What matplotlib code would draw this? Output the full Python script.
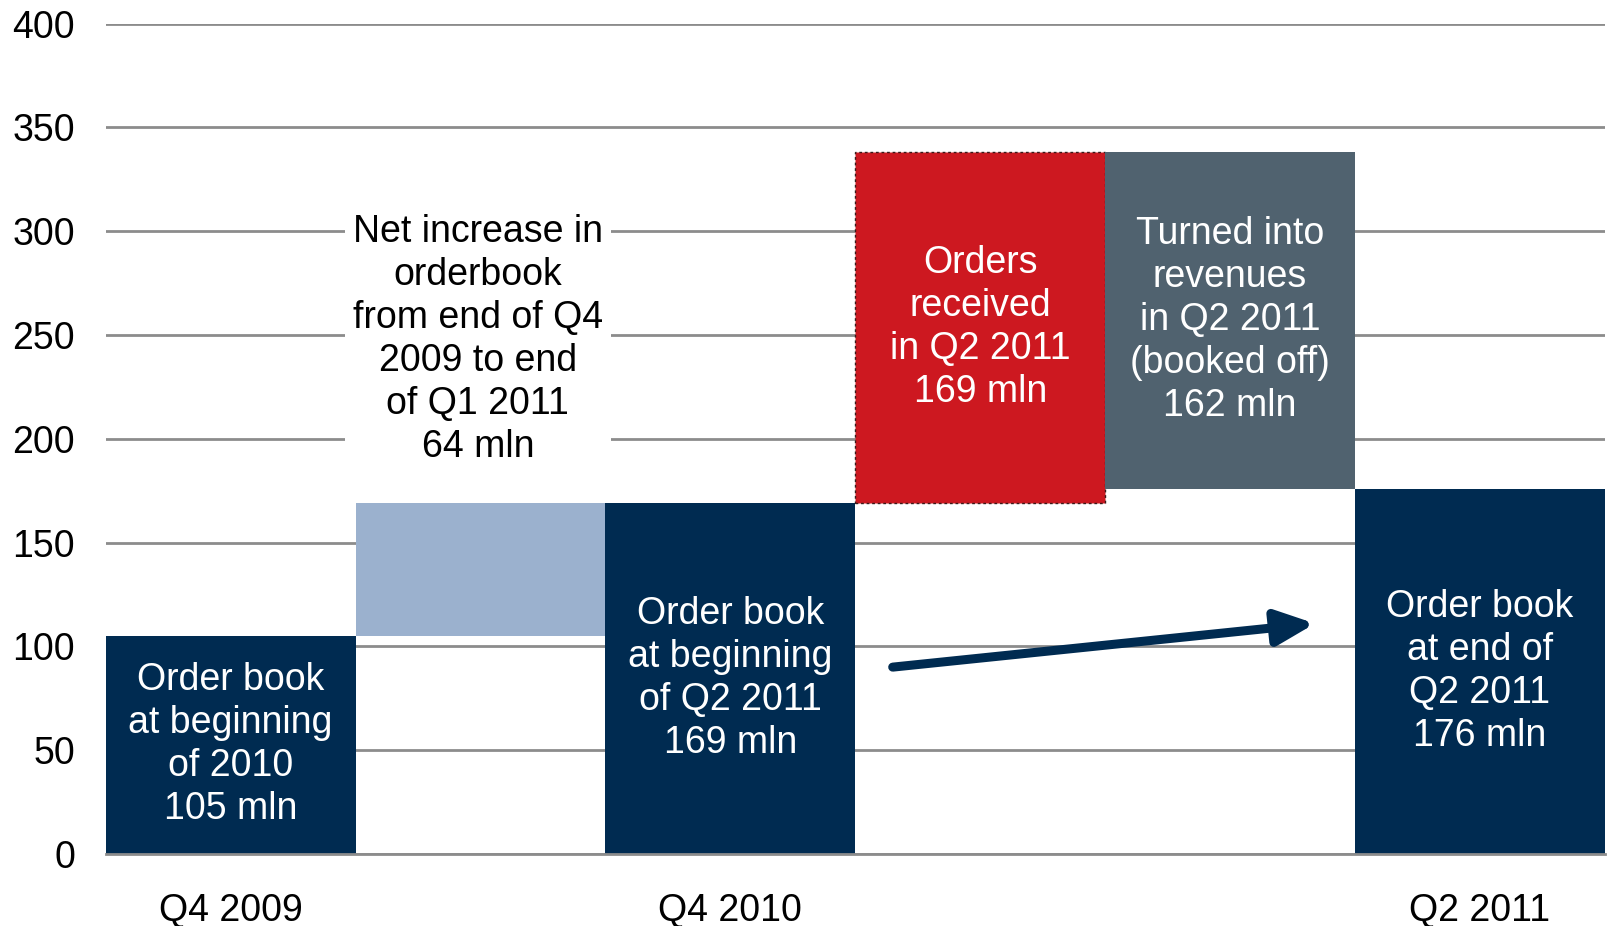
import numpy as np
import matplotlib
matplotlib.use('Agg')
from matplotlib import pyplot as plt

plt.rcParams['font.family'] = ['Liberation Sans', 'DejaVu Sans']

# chart data (mln)
tick_labels = ['Q4 2009', '', 'Q4 2010', '', '', 'Q2 2011']
bottoms = [0, 105, 0, 169, 176, 0]
heights = [105, 64, 169, 169, 162, 176]
colors = ['#002b51', '#9bb1ce', '#002b51', '#cd1820', '#50626f', '#002b51']
bar_texts = ['Order book\nat beginning\nof 2010\n105 mln',
             None,
             'Order book\nat beginning\nof Q2 2011\n169 mln',
             'Orders\nreceived\nin Q2 2011\n169 mln',
             'Turned into\nrevenues\nin Q2 2011\n(booked off)\n162 mln',
             'Order book\nat end of\nQ2 2011\n176 mln']
net_text = 'Net increase in\norderbook\nfrom end of Q4\n2009 to end\nof Q1 2011\n64 mln'
net_text_y = 248
arrow_start = (2.65, 90)
arrow_end = (4.34, 111)

fig = plt.figure(figsize=(16.08, 9.26), dpi=100)
ax = fig.add_axes([0.0657, 0.0778, 0.9323, 0.8967])

x = np.arange(len(heights))
bars = ax.bar(x, heights, bottom=bottoms, width=1.0, color=colors, zorder=2)
bars[3].set_edgecolor('#3a1a1a')
bars[3].set_linestyle((0, (2, 2)))
bars[3].set_linewidth(1.0)

fs = 27
for i, txt in enumerate(bar_texts):
    if txt is None:
        continue
    ax.text(x[i], bottoms[i] + heights[i] / 2, txt, ha='center', va='center',
            color='white', fontsize=fs, linespacing=1.25, zorder=3)

ax.text(x[1] - 0.01, net_text_y, net_text, ha='center', va='center', color='black',
        fontsize=fs, linespacing=1.25, zorder=3,
        bbox=dict(facecolor='white', edgecolor='none', pad=6))

ax.annotate('', xy=arrow_end, xytext=arrow_start, zorder=4,
            arrowprops=dict(arrowstyle='-|>,head_length=2.3,head_width=1.05',
                            color='#002b51', lw=6.5, shrinkA=0, shrinkB=0))

ax.set_xlim(-0.5, len(heights) - 0.5)
ax.set_ylim(0, 400)
ax.set_yticks(np.arange(0, 401, 50))
ax.set_xticks(x)
ax.set_xticklabels(tick_labels)
ax.tick_params(axis='both', length=0, labelsize=fs)
ax.tick_params(axis='y', pad=22)
ax.tick_params(axis='x', pad=28)
ax.yaxis.grid(True, color='#8c8c8c', linewidth=2, zorder=1)
ax.set_axisbelow(True)
for side in ['top', 'right', 'left']:
    ax.spines[side].set_visible(False)
ax.spines['bottom'].set_color('#8c8c8c')
ax.spines['bottom'].set_linewidth(2)

plt.savefig('out.png')
